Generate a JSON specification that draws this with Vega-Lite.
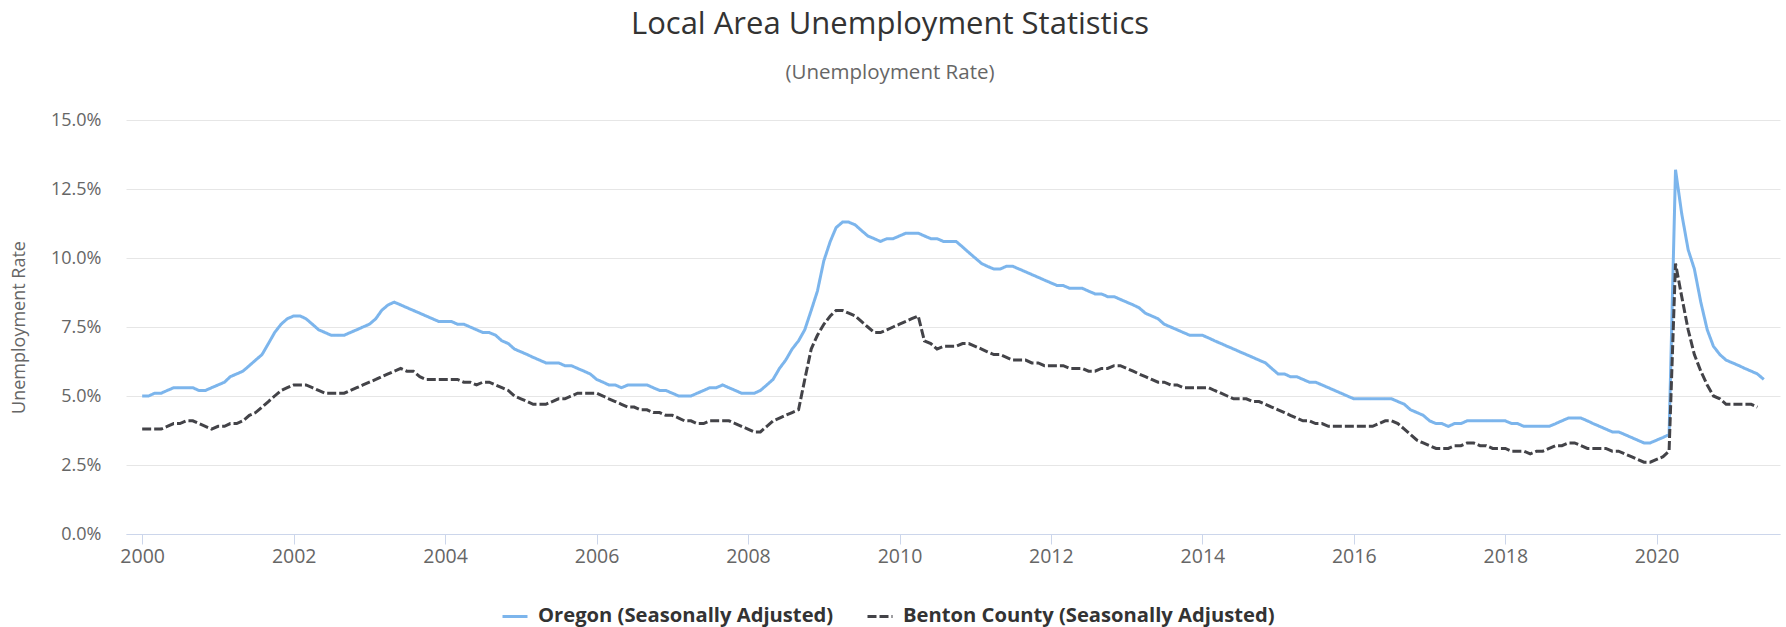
{
"$schema":"https://vega.github.io/schema/vega-lite/v6.json",
"width":1654,"height":414,
"autosize":{"type":"none"},
"padding":{"left":126,"top":120,"right":6,"bottom":93},
"background":"white",
"config":{"font":"Open Sans","view":{"stroke":null}},
"title":{"text":"Local Area Unemployment Statistics","subtitle":"(Unemployment Rate)","anchor":"middle","dx":-63,"fontSize":31,"fontWeight":"normal","color":"#333333","subtitleFontSize":20.5,"subtitleColor":"#666666","subtitlePadding":22,"offset":27},
"data":{"values":[
{"date":"2000-01","oregon":5.0,"benton":3.8},{"date":"2000-02","oregon":5.0,"benton":3.8},{"date":"2000-03","oregon":5.1,"benton":3.8},{"date":"2000-04","oregon":5.1,"benton":3.8},{"date":"2000-05","oregon":5.2,"benton":3.9},{"date":"2000-06","oregon":5.3,"benton":4.0},{"date":"2000-07","oregon":5.3,"benton":4.0},{"date":"2000-08","oregon":5.3,"benton":4.1},{"date":"2000-09","oregon":5.3,"benton":4.1},{"date":"2000-10","oregon":5.2,"benton":4.0},{"date":"2000-11","oregon":5.2,"benton":3.9},{"date":"2000-12","oregon":5.3,"benton":3.8},
{"date":"2001-01","oregon":5.4,"benton":3.9},{"date":"2001-02","oregon":5.5,"benton":3.9},{"date":"2001-03","oregon":5.7,"benton":4.0},{"date":"2001-04","oregon":5.8,"benton":4.0},{"date":"2001-05","oregon":5.9,"benton":4.1},{"date":"2001-06","oregon":6.1,"benton":4.3},{"date":"2001-07","oregon":6.3,"benton":4.4},{"date":"2001-08","oregon":6.5,"benton":4.6},{"date":"2001-09","oregon":6.9,"benton":4.8},{"date":"2001-10","oregon":7.3,"benton":5.0},{"date":"2001-11","oregon":7.6,"benton":5.2},{"date":"2001-12","oregon":7.8,"benton":5.3},
{"date":"2002-01","oregon":7.9,"benton":5.4},{"date":"2002-02","oregon":7.9,"benton":5.4},{"date":"2002-03","oregon":7.8,"benton":5.4},{"date":"2002-04","oregon":7.6,"benton":5.3},{"date":"2002-05","oregon":7.4,"benton":5.2},{"date":"2002-06","oregon":7.3,"benton":5.1},{"date":"2002-07","oregon":7.2,"benton":5.1},{"date":"2002-08","oregon":7.2,"benton":5.1},{"date":"2002-09","oregon":7.2,"benton":5.1},{"date":"2002-10","oregon":7.3,"benton":5.2},{"date":"2002-11","oregon":7.4,"benton":5.3},{"date":"2002-12","oregon":7.5,"benton":5.4},
{"date":"2003-01","oregon":7.6,"benton":5.5},{"date":"2003-02","oregon":7.8,"benton":5.6},{"date":"2003-03","oregon":8.1,"benton":5.7},{"date":"2003-04","oregon":8.3,"benton":5.8},{"date":"2003-05","oregon":8.4,"benton":5.9},{"date":"2003-06","oregon":8.3,"benton":6.0},{"date":"2003-07","oregon":8.2,"benton":5.9},{"date":"2003-08","oregon":8.1,"benton":5.9},{"date":"2003-09","oregon":8.0,"benton":5.7},{"date":"2003-10","oregon":7.9,"benton":5.6},{"date":"2003-11","oregon":7.8,"benton":5.6},{"date":"2003-12","oregon":7.7,"benton":5.6},
{"date":"2004-01","oregon":7.7,"benton":5.6},{"date":"2004-02","oregon":7.7,"benton":5.6},{"date":"2004-03","oregon":7.6,"benton":5.6},{"date":"2004-04","oregon":7.6,"benton":5.5},{"date":"2004-05","oregon":7.5,"benton":5.5},{"date":"2004-06","oregon":7.4,"benton":5.4},{"date":"2004-07","oregon":7.3,"benton":5.5},{"date":"2004-08","oregon":7.3,"benton":5.5},{"date":"2004-09","oregon":7.2,"benton":5.4},{"date":"2004-10","oregon":7.0,"benton":5.3},{"date":"2004-11","oregon":6.9,"benton":5.2},{"date":"2004-12","oregon":6.7,"benton":5.0},
{"date":"2005-01","oregon":6.6,"benton":4.9},{"date":"2005-02","oregon":6.5,"benton":4.8},{"date":"2005-03","oregon":6.4,"benton":4.7},{"date":"2005-04","oregon":6.3,"benton":4.7},{"date":"2005-05","oregon":6.2,"benton":4.7},{"date":"2005-06","oregon":6.2,"benton":4.8},{"date":"2005-07","oregon":6.2,"benton":4.9},{"date":"2005-08","oregon":6.1,"benton":4.9},{"date":"2005-09","oregon":6.1,"benton":5.0},{"date":"2005-10","oregon":6.0,"benton":5.1},{"date":"2005-11","oregon":5.9,"benton":5.1},{"date":"2005-12","oregon":5.8,"benton":5.1},
{"date":"2006-01","oregon":5.6,"benton":5.1},{"date":"2006-02","oregon":5.5,"benton":5.0},{"date":"2006-03","oregon":5.4,"benton":4.9},{"date":"2006-04","oregon":5.4,"benton":4.8},{"date":"2006-05","oregon":5.3,"benton":4.7},{"date":"2006-06","oregon":5.4,"benton":4.6},{"date":"2006-07","oregon":5.4,"benton":4.6},{"date":"2006-08","oregon":5.4,"benton":4.5},{"date":"2006-09","oregon":5.4,"benton":4.5},{"date":"2006-10","oregon":5.3,"benton":4.4},{"date":"2006-11","oregon":5.2,"benton":4.4},{"date":"2006-12","oregon":5.2,"benton":4.3},
{"date":"2007-01","oregon":5.1,"benton":4.3},{"date":"2007-02","oregon":5.0,"benton":4.2},{"date":"2007-03","oregon":5.0,"benton":4.1},{"date":"2007-04","oregon":5.0,"benton":4.1},{"date":"2007-05","oregon":5.1,"benton":4.0},{"date":"2007-06","oregon":5.2,"benton":4.0},{"date":"2007-07","oregon":5.3,"benton":4.1},{"date":"2007-08","oregon":5.3,"benton":4.1},{"date":"2007-09","oregon":5.4,"benton":4.1},{"date":"2007-10","oregon":5.3,"benton":4.1},{"date":"2007-11","oregon":5.2,"benton":4.0},{"date":"2007-12","oregon":5.1,"benton":3.9},
{"date":"2008-01","oregon":5.1,"benton":3.8},{"date":"2008-02","oregon":5.1,"benton":3.7},{"date":"2008-03","oregon":5.2,"benton":3.7},{"date":"2008-04","oregon":5.4,"benton":3.9},{"date":"2008-05","oregon":5.6,"benton":4.1},{"date":"2008-06","oregon":6.0,"benton":4.2},{"date":"2008-07","oregon":6.3,"benton":4.3},{"date":"2008-08","oregon":6.7,"benton":4.4},{"date":"2008-09","oregon":7.0,"benton":4.5},{"date":"2008-10","oregon":7.4,"benton":5.6},{"date":"2008-11","oregon":8.1,"benton":6.7},{"date":"2008-12","oregon":8.8,"benton":7.2},
{"date":"2009-01","oregon":9.9,"benton":7.6},{"date":"2009-02","oregon":10.6,"benton":7.9},{"date":"2009-03","oregon":11.1,"benton":8.1},{"date":"2009-04","oregon":11.3,"benton":8.1},{"date":"2009-05","oregon":11.3,"benton":8.0},{"date":"2009-06","oregon":11.2,"benton":7.9},{"date":"2009-07","oregon":11.0,"benton":7.7},{"date":"2009-08","oregon":10.8,"benton":7.5},{"date":"2009-09","oregon":10.7,"benton":7.3},{"date":"2009-10","oregon":10.6,"benton":7.3},{"date":"2009-11","oregon":10.7,"benton":7.4},{"date":"2009-12","oregon":10.7,"benton":7.5},
{"date":"2010-01","oregon":10.8,"benton":7.6},{"date":"2010-02","oregon":10.9,"benton":7.7},{"date":"2010-03","oregon":10.9,"benton":7.8},{"date":"2010-04","oregon":10.9,"benton":7.9},{"date":"2010-05","oregon":10.8,"benton":7.0},{"date":"2010-06","oregon":10.7,"benton":6.9},{"date":"2010-07","oregon":10.7,"benton":6.7},{"date":"2010-08","oregon":10.6,"benton":6.8},{"date":"2010-09","oregon":10.6,"benton":6.8},{"date":"2010-10","oregon":10.6,"benton":6.8},{"date":"2010-11","oregon":10.4,"benton":6.9},{"date":"2010-12","oregon":10.2,"benton":6.9},
{"date":"2011-01","oregon":10.0,"benton":6.8},{"date":"2011-02","oregon":9.8,"benton":6.7},{"date":"2011-03","oregon":9.7,"benton":6.6},{"date":"2011-04","oregon":9.6,"benton":6.5},{"date":"2011-05","oregon":9.6,"benton":6.5},{"date":"2011-06","oregon":9.7,"benton":6.4},{"date":"2011-07","oregon":9.7,"benton":6.3},{"date":"2011-08","oregon":9.6,"benton":6.3},{"date":"2011-09","oregon":9.5,"benton":6.3},{"date":"2011-10","oregon":9.4,"benton":6.2},{"date":"2011-11","oregon":9.3,"benton":6.2},{"date":"2011-12","oregon":9.2,"benton":6.1},
{"date":"2012-01","oregon":9.1,"benton":6.1},{"date":"2012-02","oregon":9.0,"benton":6.1},{"date":"2012-03","oregon":9.0,"benton":6.1},{"date":"2012-04","oregon":8.9,"benton":6.0},{"date":"2012-05","oregon":8.9,"benton":6.0},{"date":"2012-06","oregon":8.9,"benton":6.0},{"date":"2012-07","oregon":8.8,"benton":5.9},{"date":"2012-08","oregon":8.7,"benton":5.9},{"date":"2012-09","oregon":8.7,"benton":6.0},{"date":"2012-10","oregon":8.6,"benton":6.0},{"date":"2012-11","oregon":8.6,"benton":6.1},{"date":"2012-12","oregon":8.5,"benton":6.1},
{"date":"2013-01","oregon":8.4,"benton":6.0},{"date":"2013-02","oregon":8.3,"benton":5.9},{"date":"2013-03","oregon":8.2,"benton":5.8},{"date":"2013-04","oregon":8.0,"benton":5.7},{"date":"2013-05","oregon":7.9,"benton":5.6},{"date":"2013-06","oregon":7.8,"benton":5.5},{"date":"2013-07","oregon":7.6,"benton":5.5},{"date":"2013-08","oregon":7.5,"benton":5.4},{"date":"2013-09","oregon":7.4,"benton":5.4},{"date":"2013-10","oregon":7.3,"benton":5.3},{"date":"2013-11","oregon":7.2,"benton":5.3},{"date":"2013-12","oregon":7.2,"benton":5.3},
{"date":"2014-01","oregon":7.2,"benton":5.3},{"date":"2014-02","oregon":7.1,"benton":5.3},{"date":"2014-03","oregon":7.0,"benton":5.2},{"date":"2014-04","oregon":6.9,"benton":5.1},{"date":"2014-05","oregon":6.8,"benton":5.0},{"date":"2014-06","oregon":6.7,"benton":4.9},{"date":"2014-07","oregon":6.6,"benton":4.9},{"date":"2014-08","oregon":6.5,"benton":4.9},{"date":"2014-09","oregon":6.4,"benton":4.8},{"date":"2014-10","oregon":6.3,"benton":4.8},{"date":"2014-11","oregon":6.2,"benton":4.7},{"date":"2014-12","oregon":6.0,"benton":4.6},
{"date":"2015-01","oregon":5.8,"benton":4.5},{"date":"2015-02","oregon":5.8,"benton":4.4},{"date":"2015-03","oregon":5.7,"benton":4.3},{"date":"2015-04","oregon":5.7,"benton":4.2},{"date":"2015-05","oregon":5.6,"benton":4.1},{"date":"2015-06","oregon":5.5,"benton":4.1},{"date":"2015-07","oregon":5.5,"benton":4.0},{"date":"2015-08","oregon":5.4,"benton":4.0},{"date":"2015-09","oregon":5.3,"benton":3.9},{"date":"2015-10","oregon":5.2,"benton":3.9},{"date":"2015-11","oregon":5.1,"benton":3.9},{"date":"2015-12","oregon":5.0,"benton":3.9},
{"date":"2016-01","oregon":4.9,"benton":3.9},{"date":"2016-02","oregon":4.9,"benton":3.9},{"date":"2016-03","oregon":4.9,"benton":3.9},{"date":"2016-04","oregon":4.9,"benton":3.9},{"date":"2016-05","oregon":4.9,"benton":4.0},{"date":"2016-06","oregon":4.9,"benton":4.1},{"date":"2016-07","oregon":4.9,"benton":4.1},{"date":"2016-08","oregon":4.8,"benton":4.0},{"date":"2016-09","oregon":4.7,"benton":3.8},{"date":"2016-10","oregon":4.5,"benton":3.6},{"date":"2016-11","oregon":4.4,"benton":3.4},{"date":"2016-12","oregon":4.3,"benton":3.3},
{"date":"2017-01","oregon":4.1,"benton":3.2},{"date":"2017-02","oregon":4.0,"benton":3.1},{"date":"2017-03","oregon":4.0,"benton":3.1},{"date":"2017-04","oregon":3.9,"benton":3.1},{"date":"2017-05","oregon":4.0,"benton":3.2},{"date":"2017-06","oregon":4.0,"benton":3.2},{"date":"2017-07","oregon":4.1,"benton":3.3},{"date":"2017-08","oregon":4.1,"benton":3.3},{"date":"2017-09","oregon":4.1,"benton":3.2},{"date":"2017-10","oregon":4.1,"benton":3.2},{"date":"2017-11","oregon":4.1,"benton":3.1},{"date":"2017-12","oregon":4.1,"benton":3.1},
{"date":"2018-01","oregon":4.1,"benton":3.1},{"date":"2018-02","oregon":4.0,"benton":3.0},{"date":"2018-03","oregon":4.0,"benton":3.0},{"date":"2018-04","oregon":3.9,"benton":3.0},{"date":"2018-05","oregon":3.9,"benton":2.9},{"date":"2018-06","oregon":3.9,"benton":3.0},{"date":"2018-07","oregon":3.9,"benton":3.0},{"date":"2018-08","oregon":3.9,"benton":3.1},{"date":"2018-09","oregon":4.0,"benton":3.2},{"date":"2018-10","oregon":4.1,"benton":3.2},{"date":"2018-11","oregon":4.2,"benton":3.3},{"date":"2018-12","oregon":4.2,"benton":3.3},
{"date":"2019-01","oregon":4.2,"benton":3.2},{"date":"2019-02","oregon":4.1,"benton":3.1},{"date":"2019-03","oregon":4.0,"benton":3.1},{"date":"2019-04","oregon":3.9,"benton":3.1},{"date":"2019-05","oregon":3.8,"benton":3.1},{"date":"2019-06","oregon":3.7,"benton":3.0},{"date":"2019-07","oregon":3.7,"benton":3.0},{"date":"2019-08","oregon":3.6,"benton":2.9},{"date":"2019-09","oregon":3.5,"benton":2.8},{"date":"2019-10","oregon":3.4,"benton":2.7},{"date":"2019-11","oregon":3.3,"benton":2.6},{"date":"2019-12","oregon":3.3,"benton":2.6},
{"date":"2020-01","oregon":3.4,"benton":2.7},{"date":"2020-02","oregon":3.5,"benton":2.8},{"date":"2020-03","oregon":3.6,"benton":3.0},{"date":"2020-04","oregon":13.2,"benton":9.8},{"date":"2020-05","oregon":11.6,"benton":8.6},{"date":"2020-06","oregon":10.3,"benton":7.4},{"date":"2020-07","oregon":9.6,"benton":6.5},{"date":"2020-08","oregon":8.4,"benton":5.9},{"date":"2020-09","oregon":7.4,"benton":5.4},{"date":"2020-10","oregon":6.8,"benton":5.0},{"date":"2020-11","oregon":6.5,"benton":4.9},{"date":"2020-12","oregon":6.3,"benton":4.7},
{"date":"2021-01","oregon":6.2,"benton":4.7},{"date":"2021-02","oregon":6.1,"benton":4.7},{"date":"2021-03","oregon":6.0,"benton":4.7},{"date":"2021-04","oregon":5.9,"benton":4.7},{"date":"2021-05","oregon":5.8,"benton":4.6},{"date":"2021-06","oregon":5.6,"benton":null}
]},
"transform":[{"fold":["oregon","benton"],"as":["series","rate"]},{"filter":"isValid(datum.rate)"}],
"mark":{"type":"line","strokeWidth":3,"interpolate":"linear"},
"encoding":{
"x":{"field":"date","type":"temporal","scale":{"type":"utc","domain":[{"year":1999,"month":10,"date":15,"utc":true},{"year":2021,"month":8,"date":18,"utc":true}]},
"axis":{"title":null,"grid":false,"format":"%Y","values":[{"year":2000,"utc":true},{"year":2002,"utc":true},{"year":2004,"utc":true},{"year":2006,"utc":true},{"year":2008,"utc":true},{"year":2010,"utc":true},{"year":2012,"utc":true},{"year":2014,"utc":true},{"year":2016,"utc":true},{"year":2018,"utc":true},{"year":2020,"utc":true}],"labelFontSize":19.5,"labelColor":"#666666","labelFont":"Open Sans","domainColor":"#ccd6eb","domainWidth":1,"tickColor":"#ccd6eb","tickSize":10,"labelPadding":3}},
"y":{"field":"rate","type":"quantitative","scale":{"domain":[0,15],"nice":false},
"axis":{"title":"Unemployment Rate","titleFontSize":18,"titleFontWeight":"normal","titleColor":"#666666","titlePadding":22,"values":[0,2.5,5,7.5,10,12.5,15],"labelExpr":"format(datum.value,'.1f')+'%'","labelFontSize":18,"labelColor":"#666666","labelPadding":25,"ticks":false,"domain":false,"gridColor":"#e6e6e6","gridWidth":1}},
"color":{"field":"series","type":"nominal","scale":{"domain":["oregon","benton"],"range":["#7cb5ec","#434348"]},
"legend":{"title":null,"orient":"none","legendX":375,"legendY":482,"direction":"horizontal","labelExpr":"datum.value=='oregon'?'Oregon (Seasonally Adjusted)':'Benton County (Seasonally Adjusted)'","labelFontSize":20.2,"labelFontWeight":"bold","labelColor":"#333333","labelLimit":0,"symbolType":"stroke","symbolSize":625,"symbolStrokeWidth":3,"columnPadding":27,"labelOffset":9}},
"strokeDash":{"field":"series","type":"nominal","scale":{"domain":["oregon","benton"],"range":[[1,0],[9,3]]},"legend":null}
}
}
